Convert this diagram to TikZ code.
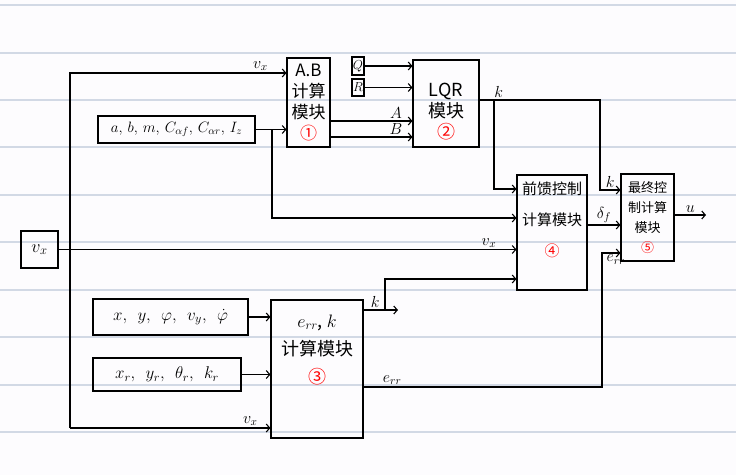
\RequirePackage{fix-cm}
\documentclass[tikz,border=0pt]{standalone}
\usepackage{fontspec}
\usepackage{xcolor}
\usepackage{tikz}
\usetikzlibrary{
    positioning,
    arrows.meta
}
\newfontfamily\cjk{Noto Sans CJK SC}
\definecolor{ruleline}{RGB}{210,217,229}
\definecolor{paper}{RGB}{253,252,254}
\newcommand{\cnum}[1]{{\color{red}#1}}

\begin{document}
\begin{tikzpicture}[
    x=1pt, y=-1pt,
    box/.style={
        rectangle,
        draw,
        line width=1.1pt,
        align=center,
        inner sep=1pt
    },
    arrow/.style={-{Straight Barb[length=3.5pt,width=8pt]}, line width=1.1pt},
    lbl/.style={font=\fontsize{16}{16}\selectfont, inner sep=1.5pt}
]

\fill[paper] (0,0) rectangle (736,475);
\useasboundingbox (0,0) rectangle (736,475);
\foreach \ly in {5,53,100,147,195,242,290,337,385,432}
    \draw[ruleline, line width=1.3pt] (0,\ly) -- (736,\ly);

\node[box, minimum width=37pt, minimum height=37pt, font=\fontsize{18}{18}\selectfont] (vxsrc) at (39.5,249.5) {$v_x$};
\node[box, minimum width=157pt, minimum height=27pt, font=\fontsize{15}{15}\selectfont] (params) at (176.5,129.5) {$a,\, b,\, m,\, C_{\alpha f},\, C_{\alpha r},\, I_z$};
\node[box, minimum width=43pt, minimum height=89pt, inner sep=0pt, font=\cjk\fontsize{17}{21}\selectfont] (abcalc) at (308.5,102.5) {A.B\\计算\\模块\\\cnum{①}};
\node[box, minimum width=12pt, minimum height=18pt, inner sep=0pt, font=\fontsize{13}{13}\selectfont] (qw) at (358,66) {$Q$};
\node[box, minimum width=12pt, minimum height=17pt, inner sep=0pt, font=\fontsize{13}{13}\selectfont] (rw) at (358,87.5) {$R$};
\node[box, minimum width=66pt, minimum height=87pt, font=\cjk\fontsize{18}{21}\selectfont] (lqr) at (446,103.5) {\rule{0pt}{29pt}LQR\\模块\\\cnum{②}};
\node[box, minimum width=70pt, minimum height=115pt, font=\cjk\fontsize{15}{31}\selectfont] (ff) at (552,232.5) {前馈控制\\计算模块\\\cnum{④}\rule[-26pt]{0pt}{26pt}};
\node[box, minimum width=53pt, minimum height=87pt, font=\cjk\fontsize{13}{20}\selectfont] (final) at (647.5,217.5) {最终控\\制计算\\模块\\\cnum{⑤}};
\node[box, minimum width=155pt, minimum height=36pt, font=\fontsize{17}{17}\selectfont] (state) at (170.5,317) {$x,\;\, y,\;\, \varphi,\;\, v_y,\;\, \dot{\varphi}$};
\node[box, minimum width=148pt, minimum height=33pt, font=\fontsize{17}{17}\selectfont] (ref) at (167,374.5) {$x_r,\;\, y_r,\;\, \theta_r,\;\, k_r$};
\node[box, minimum width=92pt, minimum height=138pt, font=\cjk\fontsize{18}{28}\selectfont] (errk) at (317,369) {$e_{rr}$, $k$\\计算模块\\\cnum{③}\rule[-40pt]{0pt}{40pt}};

\coordinate (vxbus) at (70,428);
\coordinate (pjoin) at (272,129.5);
\coordinate (kjoin) at (494,100);
\coordinate (kbend) at (600,190);
\coordinate (kout) at (398,310);
\coordinate (kjoin2) at (385,310);
\coordinate (ebend) at (602,253);
\coordinate (uout) at (706,215);

\draw[arrow] (vxbus) |- node[lbl, above, pos=0.94] (vxa) {$v_x$} (abcalc.west |- 0,73);
\draw[arrow] (vxbus) -- node[lbl, above, pos=0.9] (vxc) {$v_x$} (errk.west |- vxbus);
\draw[arrow] (vxsrc) -- node[lbl, above, pos=0.94] (vxb) {$v_x$} (vxsrc -| ff.west);
\draw[arrow] (params) -- (params -| abcalc.west);
\draw[arrow] (pjoin) |- (ff.west |- 0,218);
\draw[arrow] (abcalc.east |- 0,121) -- node[lbl, above, pos=0.8] (la) {$A$} (lqr.west |- 0,121);
\draw[arrow] (abcalc.east |- 0,137) -- node[lbl, above, pos=0.8] (lb) {$B$} (lqr.west |- 0,137);
\draw[arrow] (qw) -- (qw -| lqr.west);
\draw[arrow] (rw) -- (rw -| lqr.west);
\draw[arrow] (lqr.east |- kjoin) -| node[lbl, above, pos=0.08] (lk1) {$k$} (kbend) -- node[lbl, above] (lk2) {$k$} (final.west |- kbend);
\draw[arrow] (kjoin) |- (ff.west |- 0,189);
\draw[arrow] (ff.east |- 0,225) -- node[lbl, above] (ldf) {$\delta_f$} (final.west |- 0,225);
\draw[arrow] (final.east |- uout) -- node[lbl, above] (lu) {$u$} (uout);
\draw[arrow] (state) -- (state -| errk.west);
\draw[arrow] (ref) -- (ref -| errk.west);
\draw[arrow] (errk.east |- kout) -- node[lbl, above, pos=0.34] (lk3) {$k$} (kout);
\draw[arrow] (kjoin2) |- (ff.west |- 0,279);
\draw[arrow] (errk.east |- 0,387) -| node[lbl, above, pos=0.06] (le1) {$e_{rr}$} (ebend) -- node[lbl, below, pos=0.75] (le2) {$e_{rr}$} (final.west |- ebend);

\end{tikzpicture}
\end{document}
